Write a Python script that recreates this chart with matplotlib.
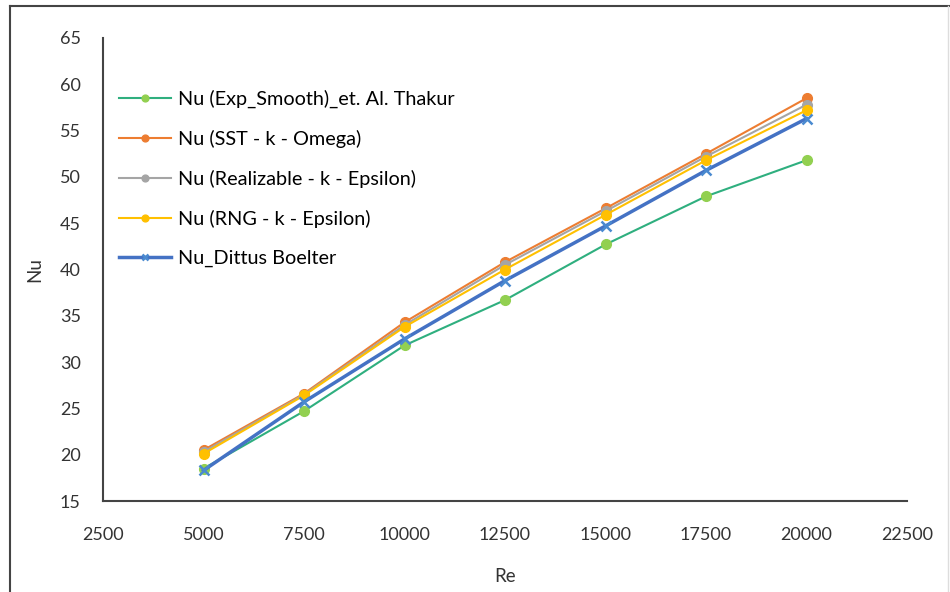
import matplotlib
matplotlib.use("Agg")
import matplotlib.pyplot as plt
from matplotlib.lines import Line2D

plt.rcParams['font.family'] = ['Lato', 'DejaVu Sans']

re = [5000, 7500, 10000, 12500, 15000, 17500, 20000]
nu_exp = [18.5, 24.7, 31.8, 36.7, 42.7, 47.9, 51.8]
nu_sst = [20.5, 26.6, 34.3, 40.8, 46.6, 52.5, 58.5]
nu_real = [20.3, 26.5, 34.0, 40.5, 46.3, 52.2, 57.8]
nu_rng = [20.1, 26.4, 33.8, 40.0, 45.9, 51.8, 57.2]
nu_db = [18.3, 25.7, 32.5, 38.8, 44.7, 50.7, 56.3]

labels = ["Nu (Exp_Smooth)_et. Al. Thakur", "Nu (SST - k - Omega)",
          "Nu (Realizable - k - Epsilon)", "Nu (RNG - k - Epsilon)",
          "Nu_Dittus Boelter"]

fig = plt.figure(figsize=(9.5, 5.92), dpi=100)
ax = fig.add_axes([103 / 950, 1 - 501 / 592, (907 - 103) / 950, (501 - 38) / 592])

ax.plot(re, nu_exp, color="#2FAF7F", lw=1.5, marker="o", ms=7,
        mfc="#92D050", mec="#92D050", label=labels[0])
ax.plot(re, nu_sst, color="#ED7D31", lw=1.5, marker="o", ms=7, label=labels[1])
ax.plot(re, nu_real, color="#A5A5A5", lw=1.5, marker="o", ms=7, label=labels[2])
ax.plot(re, nu_rng, color="#FFC000", lw=1.5, marker="o", ms=7, label=labels[3])
ax.plot(re, nu_db, color="#4472C4", lw=2.5, marker="x", ms=6.5, mew=1.8,
        mec="#4A8AD0", label=labels[4])

ax.set_xlim(2500, 22500)
ax.set_ylim(15, 65)
ax.set_xticks(range(2500, 22501, 2500))
ax.set_yticks(range(15, 66, 5))
ax.tick_params(length=0, labelsize=13, colors="#333333")
ax.tick_params(axis="y", pad=16)
ax.tick_params(axis="x", pad=19)
for s in ["top", "right"]:
    ax.spines[s].set_visible(False)
for s in ["left", "bottom"]:
    ax.spines[s].set_color("#444444")
    ax.spines[s].set_linewidth(1.5)

ax.set_xlabel("Re", fontsize=13.5, color="#333333", labelpad=18)
ax.set_ylabel("Nu", fontsize=13.5, color="#333333", labelpad=12)

ax.legend(loc="upper left", bbox_to_anchor=(0.01, 0.905), frameon=False,
          fontsize=14.3, labelspacing=1.1, handlelength=2.6, handletextpad=0.35,
          markerscale=0.7, borderaxespad=0)

# outer chart border
fig.add_artist(Line2D([10 / 950, 10 / 950], [0, 1 - 6 / 592], color="#444444", lw=1.5))
fig.add_artist(Line2D([10 / 950, 1], [1 - 6 / 592, 1 - 6 / 592], color="#444444", lw=1.5))
fig.add_artist(Line2D([948 / 950, 948 / 950], [0, 1 - 6 / 592], color="#DDDDDD", lw=1))

fig.savefig("out.png", dpi=100)
